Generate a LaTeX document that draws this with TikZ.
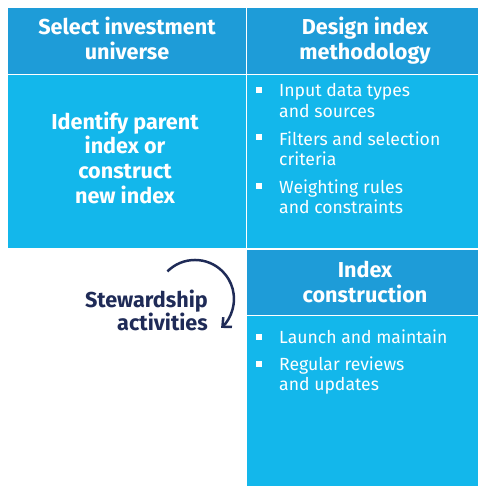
\documentclass[tikz,border=0pt]{standalone}
\usepackage{fontspec}
\setmainfont{Fira Sans}
\usetikzlibrary{arrows.meta}

\definecolor{headblue}{HTML}{1E9CD8}
\definecolor{bodyblue}{HTML}{13B7EB}
\definecolor{navy}{HTML}{1F2B57}

\tikzset{
    panel/.style={inner sep=0pt, anchor=north west},
    headtext/.style={text=white, font=\fontsize{21.6}{25}\selectfont\bfseries, align=center, anchor=base, inner sep=0pt},
    itemtext/.style={text=white, font=\fontsize{17.6}{20.5}\selectfont, align=left, anchor=base west, inner sep=0pt},
    sqbullet/.style={fill=white, inner sep=0pt, minimum size=6pt}
}

\begin{document}
\begin{tikzpicture}[x=1pt, y=-1pt]
        \useasboundingbox (0,0) rectangle (478,486);
        % panels
        \node [panel, fill=headblue, minimum width=238pt, minimum height=66pt] (selhead) at (8,8) {};
        \node [panel, fill=bodyblue, minimum width=238pt, minimum height=173pt] (selbody) at (8,75) {};
        \node [panel, fill=headblue, minimum width=231pt, minimum height=66pt] (deshead) at (247,8) {};
        \node [panel, fill=bodyblue, minimum width=231pt, minimum height=173pt] (desbody) at (247,75) {};
        \node [panel, fill=headblue, minimum width=231pt, minimum height=65pt] (conhead) at (247,250) {};
        \node [panel, fill=bodyblue, minimum width=231pt, minimum height=170pt] (conbody) at (247,316) {};
        % headings (anchored on the last line)
        \node [headtext] (seltitle) at (127,60) {Select investment\\universe};
        \node [headtext] (destitle) at (365,60) {Design index\\methodology};
        \node [headtext] (contitle) at (365,302) {Index\\construction};
        \node [headtext, font=\fontsize{21.6}{24.5}\selectfont\bfseries] (parent) at (125,203) {Identify parent\\index or\\construct\\new index};
        % design items
        \node [sqbullet] (b1) at (259,90) {};
        \node [itemtext] (i1) at (279,117.5) {Input data types\\and sources};
        \node [sqbullet] (b2) at (259,137) {};
        \node [itemtext] (i2) at (279,165.5) {Filters and selection\\criteria};
        \node [sqbullet] (b3) at (259,186) {};
        \node [itemtext] (i3) at (279,213.5) {Weighting rules\\and constraints};
        % construction items
        \node [sqbullet] (b4) at (259,337) {};
        \node [itemtext] (i4) at (279,343) {Launch and maintain};
        \node [sqbullet] (b5) at (259,364) {};
        \node [itemtext] (i5) at (279,390.5) {Regular reviews\\and updates};
        % stewardship
        \node [text=navy, font=\fontsize{21.6}{23}\selectfont\bfseries, align=right, anchor=base east, inner sep=0pt] (steward) at (208,330) {Stewardship\\activities};
        \coordinate (arcstart) at (167.4,271.4);
        \draw [navy, line width=2.5pt, -{Straight Barb[length=7pt, width=13pt]}] (arcstart) arc [start angle=-135, end angle=48, radius=39];
\end{tikzpicture}
\end{document}
